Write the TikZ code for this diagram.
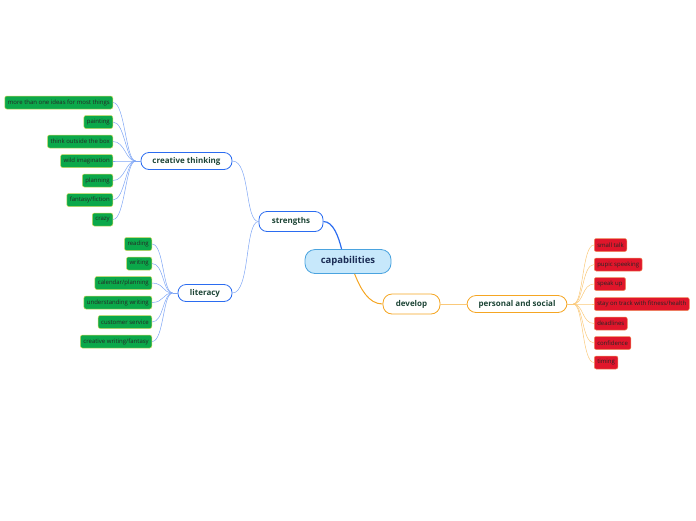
\documentclass[tikz,border=0pt]{standalone}
\usepackage{fontspec}
\setmainfont{Open Sans}
\usetikzlibrary{calc}
\definecolor{leafg}{HTML}{0BA84A}
\definecolor{leafgb}{HTML}{C9D85A}
\definecolor{leafr}{HTML}{E0162B}
\definecolor{leafrb}{HTML}{F08A5A}
\definecolor{txt}{HTML}{1D4536}
\definecolor{captxt}{HTML}{1B2D55}
\definecolor{bl}{HTML}{2B6CF0}
\definecolor{bll}{HTML}{7FA6F5}
\definecolor{capf}{HTML}{C7E8FB}
\definecolor{capb}{HTML}{4AA3DF}
\definecolor{org}{HTML}{F5A623}
\definecolor{orgl}{HTML}{FAC97A}
\tikzset{
  x=1pt,y=-1pt,
  leafG/.style={draw=leafgb,fill=leafg,rounded corners=2pt,line width=0.5pt,minimum height=13pt,inner xsep=3pt,inner ysep=0pt,font=\fontsize{6}{7}\selectfont,text=black!85,anchor=east},
  leafR/.style={draw=leafrb,fill=leafr,rounded corners=2pt,line width=0.5pt,minimum height=13pt,inner xsep=3pt,inner ysep=0pt,font=\fontsize{6}{7}\selectfont,text=black!85,anchor=west},
  mainB/.style={draw=bl,fill=white,rounded corners=8pt,line width=0.8pt,minimum height=17pt,font=\fontsize{8}{9}\selectfont\bfseries,text=txt},
  mainO/.style={draw=org,fill=white,rounded corners=9pt,line width=0.8pt,minimum height=20pt,font=\fontsize{8}{9}\selectfont\bfseries,text=txt},
  lineB/.style={draw=bll,line width=0.5pt},
  lineO/.style={draw=orgl,line width=0.5pt},
}
\begin{document}
\begin{tikzpicture}
\useasboundingbox (0,0) rectangle (696,520);
% central
\node[draw=capb,fill=capf,rounded corners=10pt,line width=0.8pt,minimum width=86pt,minimum height=24pt,font=\fontsize{9.5}{11}\selectfont\bfseries,text=captxt] (cap) at (348,261.5) {capabilities};
\node[mainB,minimum width=64pt,minimum height=20pt] (str) at (291,221.5) {strengths};
\node[mainB,minimum width=91pt] (ct) at (186.5,161) {creative thinking};
\node[mainB,minimum width=54pt] (lit) at (205,293) {literacy};
\node[mainO,minimum width=57pt] (dev) at (411.5,304) {develop};
\node[mainO,minimum width=100pt,minimum height=17pt] (ps) at (517,304) {personal and social};
% green leaves (creative thinking)
\node[leafG] (g1) at (113,102.5) {more than one ideas for most things};
\node[leafG] (g2) at (113,122) {painting};
\node[leafG] (g3) at (113,141.5) {think outside the box};
\node[leafG] (g4) at (113,161) {wild imagination};
\node[leafG] (g5) at (113,180.5) {planning};
\node[leafG] (g6) at (113,200) {fantasy/fiction};
\node[leafG] (g7) at (113,219.5) {crazy};
% green leaves (literacy)
\node[leafG] (h1) at (152,244) {reading};
\node[leafG] (h2) at (152,263.5) {writing};
\node[leafG] (h3) at (152,283) {calendar/planning};
\node[leafG] (h4) at (152,302.5) {understanding writing};
\node[leafG] (h5) at (152,322) {customer service};
\node[leafG] (h6) at (152,341.5) {creative writing/fantasy};
% red leaves
\node[leafR] (r1) at (594,245) {small talk};
\node[leafR] (r2) at (594,264.5) {pupic speeking};
\node[leafR] (r3) at (594,284) {speak up};
\node[leafR] (r4) at (594,304) {stay on track with fitness/health};
\node[leafR] (r5) at (594,323.5) {deadlines};
\node[leafR] (r6) at (594,343) {confidence};
\node[leafR] (r7) at (594,362.5) {timing};
% connectors
\coordinate (cth) at ($(ct.west)+(-5,0)$);
\coordinate (lith) at ($(lit.west)+(-5,0)$);
\coordinate (psh) at ($(ps.east)+(6,0)$);
\foreach \n in {g1,g2,g3,g4,g5,g6,g7}{
  \draw[lineB] (\n.east) .. controls +(12,0) and +(-10,0) .. (cth);
}
\draw[lineB] (cth) -- (ct.west);
\foreach \n in {h1,h2,h3,h4,h5,h6}{
  \draw[lineB] (\n.east) .. controls +(12,0) and +(-10,0) .. (lith);
}
\draw[lineB] (lith) -- (lit.west);
\foreach \n in {r1,r2,r3,r4,r5,r6,r7}{
  \draw[lineO] (psh) .. controls +(10,0) and +(-12,0) .. (\n.west);
}
\draw[lineO] (ps.east) -- (psh);
\draw[lineB] (str.west) .. controls +(-14,0) and +(18,0) .. (ct.east);
\draw[lineB] (str.west) .. controls +(-14,0) and +(18,0) .. (lit.east);
\draw[bl,line width=1.2pt] (str.east) .. controls +(10,0) and +(-3,-12) .. ($(cap.north west)+(37,0)$);
\draw[org,line width=1pt] ($(cap.south west)+(50,0)$) .. controls +(6,15) and +(-14,0) .. (dev.west);
\draw[lineO,line width=0.8pt] (dev.east) -- (ps.west);
\end{tikzpicture}
\end{document}
